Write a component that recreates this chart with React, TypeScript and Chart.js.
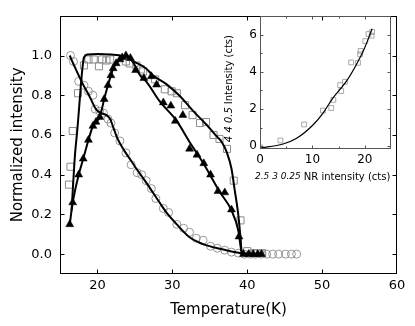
import React, { useEffect, useRef } from 'react';
import { Chart, registerables } from 'chart.js';
Chart.register(...registerables);

// ---------- Main panel data ----------
const circT = [16.4, 16.8, 17.5, 18.2, 18.8, 19.4, 19.7, 20.3, 20.8, 21.4, 21.8, 22.3, 23.0, 23.8, 24.5, 25.3, 25.9, 26.5, 27.2, 27.8, 28.8, 29.5, 30.6, 31.5, 32.3, 33.2, 34.1, 35.1, 36.0, 37.0, 37.9, 38.8, 39.6, 40.4, 41.1, 41.9, 42.6, 43.4, 44.2, 45.1, 45.9, 46.6];
const circV = [1.0, 0.97, 0.87, 0.85, 0.82, 0.8, 0.73, 0.72, 0.71, 0.68, 0.66, 0.61, 0.57, 0.51, 0.45, 0.41, 0.4, 0.37, 0.33, 0.28, 0.23, 0.21, 0.15, 0.13, 0.11, 0.08, 0.07, 0.04, 0.03, 0.02, 0.01, 0.005, 0, 0, 0, 0, 0, 0, 0, 0, 0, 0];

const circFitT = [16.3, 17.0, 18.0, 19.0, 19.8, 20.5, 21.2, 21.7, 22.1, 22.7, 23.6, 24.5, 25.2, 26.7, 27.4, 28.3, 29.2, 30.6, 32.3, 33.5, 34.6, 36.8, 39.0, 42.0];
const circFitV = [1.0, 0.94, 0.86, 0.79, 0.73, 0.71, 0.7, 0.68, 0.64, 0.58, 0.52, 0.47, 0.43, 0.35, 0.31, 0.26, 0.21, 0.15, 0.085, 0.06, 0.044, 0.023, 0.006, 0.0];

const sqT = [16.2, 16.4, 16.7, 17.4, 18.2, 18.8, 19.5, 20.2, 20.6, 21.2, 21.7, 23.8, 24.3, 25.2, 25.8, 26.1, 27.7, 29.0, 29.9, 30.6, 31.7, 32.7, 33.7, 34.5, 35.5, 36.3, 37.3, 38.2, 39.1, 40.0, 40.9, 42.0];
const sqV = [0.35, 0.44, 0.62, 0.81, 0.95, 0.98, 0.98, 0.946, 0.98, 0.975, 0.98, 0.97, 0.96, 0.95, 0.93, 0.92, 0.88, 0.83, 0.82, 0.81, 0.75, 0.7, 0.66, 0.665, 0.6, 0.58, 0.53, 0.37, 0.17, 0.015, 0.005, 0.005];

const sqFitT = [16.55, 17.0, 17.3, 17.6, 17.9, 18.2, 18.7, 20.1, 21.8, 23.4, 25.0, 26.5, 27.4, 29.2, 31.0, 32.8, 34.6, 36.0, 36.6, 37.3, 37.9, 38.3, 38.8, 39.1, 39.3, 42.0];
const sqFitV = [0.22, 0.5, 0.62, 0.76, 0.9, 0.99, 1.005, 1.008, 1.005, 0.997, 0.967, 0.935, 0.9, 0.856, 0.796, 0.72, 0.65, 0.59, 0.565, 0.51, 0.43, 0.33, 0.2, 0.085, 0.0, 0.0];

const triT = [16.3, 16.7, 17.5, 18.1, 18.8, 19.4, 19.8, 20.3, 20.9, 21.4, 21.8, 22.1, 22.5, 23.0, 23.3, 23.8, 24.4, 25.1, 26.2, 27.2, 27.9, 28.8, 29.8, 30.4, 31.4, 32.3, 33.3, 34.2, 35.1, 36.1, 37.0, 37.9, 38.9, 39.5, 40.2, 40.8, 41.4, 41.9];
const triV = [0.15, 0.26, 0.4, 0.48, 0.575, 0.645, 0.665, 0.69, 0.78, 0.85, 0.9, 0.935, 0.96, 0.98, 0.99, 1.0, 0.987, 0.926, 0.886, 0.895, 0.853, 0.763, 0.747, 0.67, 0.7, 0.53, 0.5, 0.457, 0.4, 0.317, 0.31, 0.224, 0.088, 0.0, 0.0, 0.0, 0.0, 0.0];

const triFitT = [16.3, 16.7, 17.5, 18.1, 18.8, 19.4, 19.8, 20.3, 20.9, 21.4, 21.8, 22.1, 22.5, 23.0, 23.3, 23.8, 24.4, 25.0, 25.7, 26.6, 28.3, 30.6, 32.3, 34.1, 36.3, 37.9, 38.8, 39.2, 39.4, 42.0];
const triFitV = [0.15, 0.26, 0.4, 0.48, 0.575, 0.645, 0.665, 0.69, 0.78, 0.85, 0.9, 0.935, 0.96, 0.98, 0.99, 1.0, 0.985, 0.95, 0.9, 0.865, 0.77, 0.67, 0.565, 0.46, 0.315, 0.22, 0.12, 0.02, 0.0, 0.0];

const mainXTicks = [20, 30, 40, 50, 60];
const mainYTicks = [0, 0.2, 0.4, 0.6, 0.8, 1.0];
const mainXTitle = 'Temperature(K)';
const mainYTitle = 'Normalized intensity';

// ---------- Inset data ----------
const insX = [0, 3.9, 8.4, 12.0, 13.6, 14.0, 15.3, 15.5, 16.2, 17.4, 18.7, 19.1, 19.2, 20.1, 20.7, 21.4, 21.3];
const insY = [-0.06, 0.31, 1.17, 1.92, 2.06, 2.5, 3.29, 2.97, 3.47, 4.51, 4.49, 4.95, 5.13, 5.66, 6.04, 6.15, 5.95];
const insFitX = [0, 4.4, 7.0, 10.2, 12.1, 13.8, 16.5, 18.4, 19.9, 21.4];
const insFitY = [-0.1, 0.12, 0.43, 1.17, 1.81, 2.55, 3.5, 4.4, 5.25, 6.32];

const insXTicks = [0, 10, 20];
const insYTicks = [0, 2, 4, 6];
const insXMinor = [5, 15];
const insYMinor = [1, 3, 5];
const insXTitleItalic = '2.5 3 0.25';
const insXTitleRest = 'NR intensity (cts)';
const insYTitleItalic = '4 4 0.5';
const insYTitleRest = 'Intensity (cts)';

const FONT = '"DejaVu Sans", sans-serif';

function pts(xs: number[], ys: number[]) {
  return xs.map((x, i) => ({ x, y: ys[i] }));
}

function framePlugin(cfg: { color: string; xTicks: number[]; yTicks: number[]; len: number; minorX?: number[]; minorY?: number[]; minorLen?: number }) {
  return {
    id: 'frameTicks',
    afterDatasetsDraw(chart: any) {
      const { ctx, chartArea: a, scales } = chart;
      const xs = scales.x, ys = scales.y;
      const L = Math.round(a.left) + 0.5, R = Math.round(a.right) - 0.5;
      const T = Math.round(a.top) + 0.5, B = Math.round(a.bottom) - 0.5;
      ctx.save();
      ctx.strokeStyle = cfg.color;
      ctx.lineWidth = 1;
      ctx.strokeRect(L, T, R - L, B - T);
      ctx.beginPath();
      const drawX = (vals: number[], len: number) => {
        for (const v of vals) {
          const px = Math.round(xs.getPixelForValue(v)) + 0.5;
          if (px <= L + 1 || px >= R - 1) continue;
          ctx.moveTo(px, B); ctx.lineTo(px, B - len);
          ctx.moveTo(px, T); ctx.lineTo(px, T + len);
        }
      };
      const drawY = (vals: number[], len: number) => {
        for (const v of vals) {
          const py = Math.round(ys.getPixelForValue(v)) + 0.5;
          if (py <= T + 1 || py >= B - 1) continue;
          ctx.moveTo(L, py); ctx.lineTo(L + len, py);
          ctx.moveTo(R, py); ctx.lineTo(R - len, py);
        }
      };
      drawX(cfg.xTicks, cfg.len);
      drawY(cfg.yTicks, cfg.len);
      if (cfg.minorX) drawX(cfg.minorX, cfg.minorLen || 2);
      if (cfg.minorY) drawY(cfg.minorY, cfg.minorLen || 2);
      ctx.stroke();
      ctx.restore();
    },
  };
}

const insetTitlePlugin = {
  id: 'insetTitles',
  afterDraw(chart: any) {
    const ctx = chart.ctx;
    const a = chart.chartArea;
    ctx.save();
    ctx.fillStyle = '#000';
    ctx.textBaseline = 'middle';
    ctx.textAlign = 'left';
    // x title
    let x = a.left - 5;
    const y = a.bottom + 28;
    ctx.font = `italic 9px ${FONT}`;
    ctx.fillText(insXTitleItalic, x, y);
    x += ctx.measureText(insXTitleItalic).width + 3;
    ctx.font = `10px ${FONT}`;
    ctx.fillText(insXTitleRest, x, y);
    // y title
    ctx.font = `italic 10px ${FONT}`;
    const w1 = ctx.measureText(insYTitleItalic).width + 3;
    ctx.font = `10px ${FONT}`;
    const w2 = ctx.measureText(insYTitleRest).width;
    ctx.translate(a.left - 31, (a.top + a.bottom) / 2 + 6);
    ctx.rotate(-Math.PI / 2);
    const start = -(w1 + w2) / 2;
    ctx.font = `italic 10px ${FONT}`;
    ctx.fillText(insYTitleItalic, start, 0);
    ctx.font = `10px ${FONT}`;
    ctx.fillText(insYTitleRest, start + w1, 0);
    ctx.restore();
  },
};

export default function App() {
  const mainRef = useRef<HTMLCanvasElement>(null);
  const insRef = useRef<HTMLCanvasElement>(null);

  useEffect(() => {
    const lineDs = (xs: number[], ys: number[], order: number) => ({
      data: pts(xs, ys),
      showLine: true,
      borderColor: '#000',
      borderWidth: 2,
      pointRadius: 0,
      cubicInterpolationMode: 'monotone' as const,
      order,
    });
    const main = new Chart(mainRef.current!, {
      type: 'scatter',
      data: {
        datasets: [
          { data: pts(circT, circV), pointStyle: 'circle', pointRadius: 4, borderColor: '#8c8c8c', backgroundColor: 'rgba(0,0,0,0)', borderWidth: 0.9, order: 10 },
          { data: pts(sqT, sqV), pointStyle: 'rect', pointRadius: 5, borderColor: '#8c8c8c', backgroundColor: 'rgba(0,0,0,0)', borderWidth: 1, order: 9 },
          lineDs(circFitT, circFitV, 8),
          lineDs(sqFitT, sqFitV, 7),
          lineDs(triFitT, triFitV, 6),
          { data: pts(triT, triV), pointStyle: 'triangle', pointRadius: 4.6, borderColor: '#000', backgroundColor: '#000', borderWidth: 0.5, order: 5 },
        ] as any,
      },
      options: {
        animation: false,
        responsive: false,
        maintainAspectRatio: false,
        layout: { padding: { top: 10, right: 18, left: 0, bottom: 0 } },
        plugins: { legend: { display: false }, tooltip: { enabled: false } },
        scales: {
          x: {
            type: 'linear', min: 15, max: 60,
            afterBuildTicks: (s: any) => { s.ticks = mainXTicks.map((v) => ({ value: v })); },
            afterFit: (s: any) => { s.height = 52; },
            grid: { display: false, drawTicks: false },
            border: { display: false },
            ticks: { padding: 4, color: '#000', font: { family: FONT, size: 13 }, callback: (v: any) => String(v) },
            title: { display: true, text: mainXTitle, color: '#000', font: { family: FONT, size: 15 }, padding: { top: 0, bottom: 7 } },
          },
          y: {
            type: 'linear', min: -0.1, max: 1.2,
            afterBuildTicks: (s: any) => { s.ticks = mainYTicks.map((v) => ({ value: v })); },
            afterFit: (s: any) => { s.width = 60; },
            grid: { display: false, drawTicks: false },
            border: { display: false },
            ticks: { padding: 8, color: '#000', font: { family: FONT, size: 13 }, callback: (v: any) => Number(v).toFixed(1) },
            title: { display: true, text: mainYTitle, color: '#000', font: { family: FONT, size: 15 }, padding: { top: 9, bottom: 0 } },
          },
        },
      } as any,
      plugins: [framePlugin({ color: '#000', xTicks: mainXTicks, yTicks: mainYTicks, len: 4 })],
    });

    const inset = new Chart(insRef.current!, {
      type: 'scatter',
      data: {
        datasets: [
          { data: pts(insFitX, insFitY), showLine: true, borderColor: '#000', borderWidth: 1.2, pointRadius: 0, cubicInterpolationMode: 'monotone', order: 1 },
          { data: pts(insX, insY), pointStyle: 'rect', pointRadius: 3.4, borderColor: '#a8a8a8', backgroundColor: 'rgba(0,0,0,0)', borderWidth: 1, order: 2 },
        ] as any,
      },
      options: {
        animation: false,
        responsive: false,
        maintainAspectRatio: false,
        layout: { padding: { top: 8, right: 4, left: 0, bottom: 0 } },
        plugins: { legend: { display: false }, tooltip: { enabled: false } },
        scales: {
          x: {
            type: 'linear', min: 0, max: 25,
            afterBuildTicks: (s: any) => { s.ticks = insXTicks.map((v) => ({ value: v })); },
            afterFit: (s: any) => { s.height = 37; },
            grid: { display: false, drawTicks: false },
            border: { display: false },
            ticks: { padding: 4, color: '#000', font: { family: FONT, size: 12 }, callback: (v: any) => String(v) },
          },
          y: {
            type: 'linear', min: -0.15, max: 7,
            afterBuildTicks: (s: any) => { s.ticks = insYTicks.map((v) => ({ value: v })); },
            afterFit: (s: any) => { s.width = 44; },
            grid: { display: false, drawTicks: false },
            border: { display: false },
            ticks: { padding: 3, color: '#000', font: { family: FONT, size: 12 }, callback: (v: any) => String(v) },
          },
        },
      } as any,
      plugins: [framePlugin({ color: '#555', xTicks: insXTicks, yTicks: insYTicks, len: 3, minorX: insXMinor, minorY: insYMinor, minorLen: 2 }), insetTitlePlugin],
    });

    return () => { main.destroy(); inset.destroy(); };
  }, []);

  return (
    <div style={{ position: 'absolute', left: 0, top: 0, width: 415, height: 326, background: '#fff' }}>
      <canvas ref={mainRef} width={415} height={326} style={{ position: 'absolute', left: 0, top: 0, width: 415, height: 326 }} />
      <canvas ref={insRef} width={180} height={180} style={{ position: 'absolute', left: 216, top: 6, width: 180, height: 180 }} />
    </div>
  );
}
